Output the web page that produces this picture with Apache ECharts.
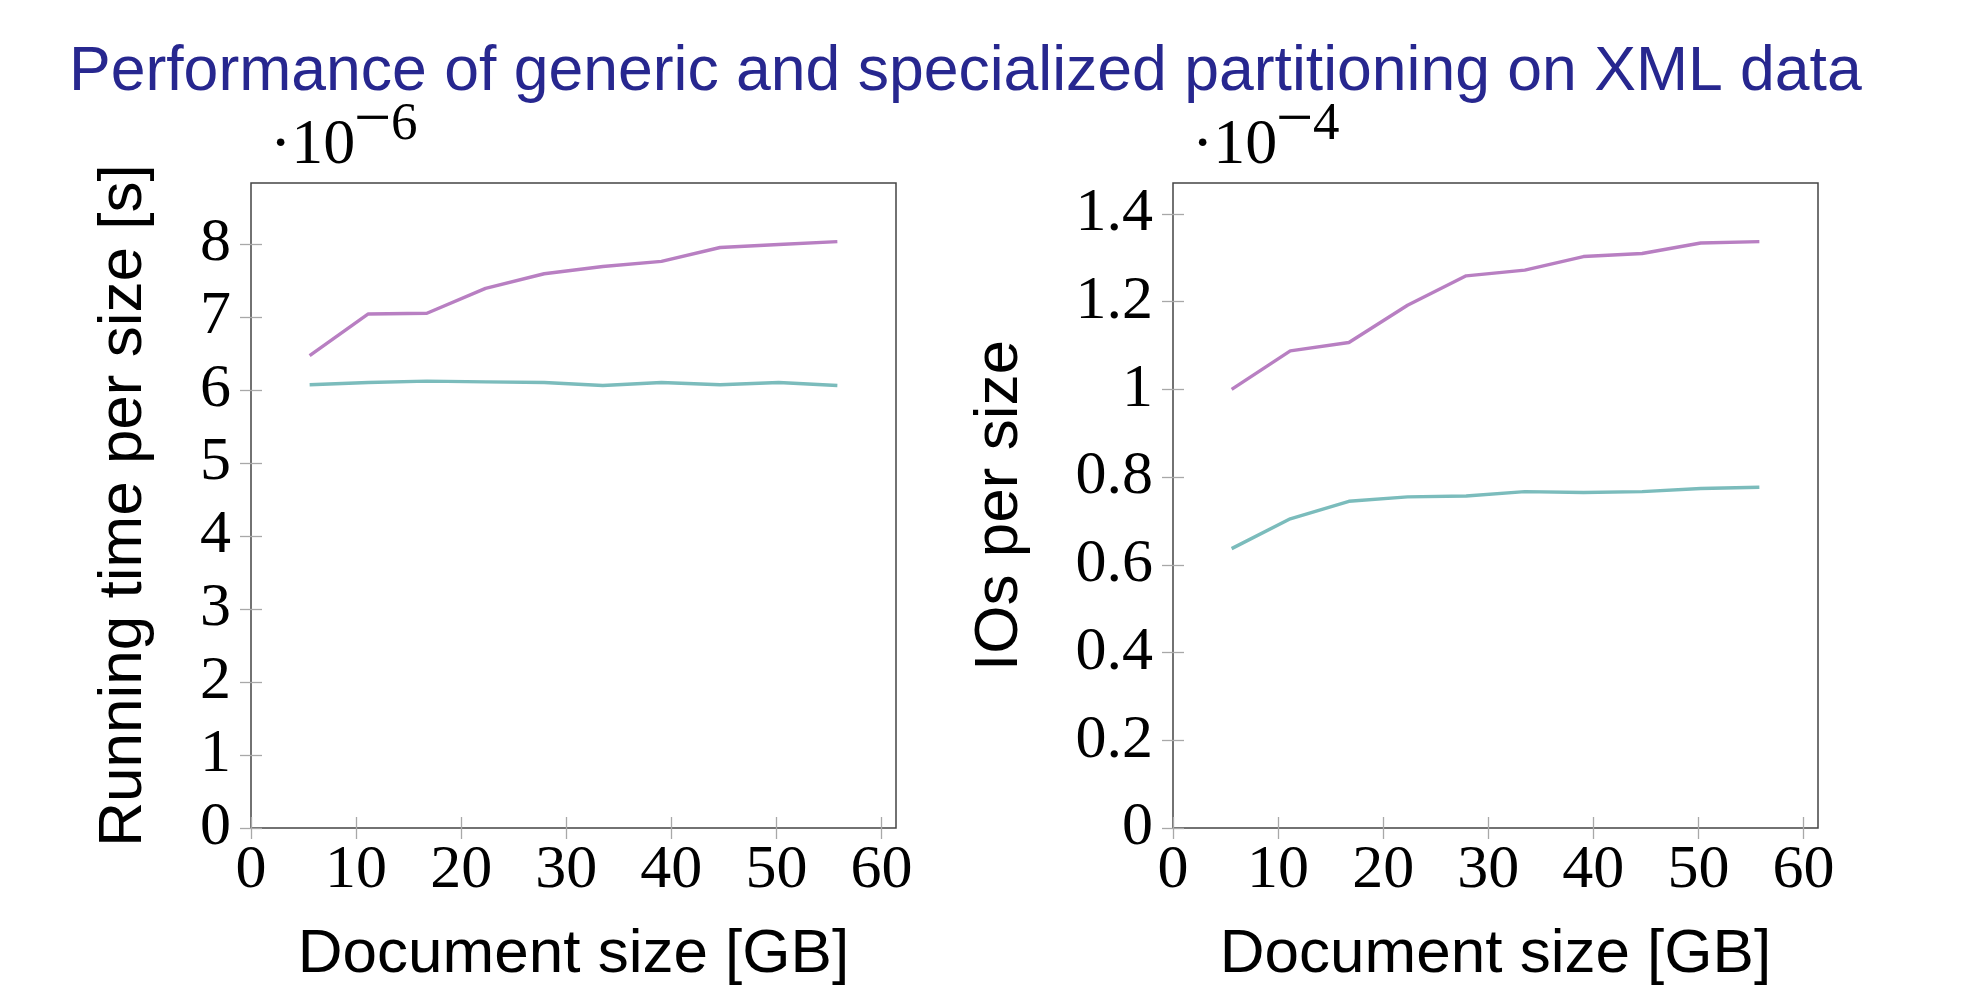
<!DOCTYPE html>
<html>
<head>
<meta charset="utf-8">
<script src="https://cdn.jsdelivr.net/npm/echarts@6/dist/echarts.min.js"></script>
<style>
html,body{margin:0;padding:0;background:#fff;}
#chart{width:1978px;height:992px;}
</style>
</head>
<body>
<div id="chart"></div>
<script>
// Document size [GB]
const docSizes = [5.58, 11.16, 16.74, 22.32, 27.9, 33.48, 39.06, 44.64, 50.22, 55.8];
// Running time per size [s] (×10^-6)
const timeGeneric = [6.47, 7.04, 7.05, 7.39, 7.59, 7.69, 7.76, 7.95, 7.99, 8.03];
const timeSpecialized = [6.07, 6.10, 6.12, 6.11, 6.10, 6.06, 6.10, 6.07, 6.10, 6.06];
// IOs per size (×10^-4)
const ioGeneric = [1.000, 1.088, 1.107, 1.192, 1.259, 1.272, 1.303, 1.310, 1.334, 1.337];
const ioSpecialized = [0.637, 0.705, 0.745, 0.755, 0.757, 0.767, 0.765, 0.767, 0.774, 0.777];
// tick values
const xTicks = [0, 10, 20, 30, 40, 50, 60];
const timeTicks = [0, 1, 2, 3, 4, 5, 6, 7, 8];
const ioTicks = [0, 0.2, 0.4, 0.6, 0.8, 1.0, 1.2, 1.4];

const titleText = 'Performance of generic and specialized partitioning on XML data';
const timeName = 'Running time per size [s]';
const ioName = 'IOs per size';
const xName = 'Document size [GB]';
const timeExp = '6', ioExp = '4';

const X_MAX = 61.38, TIME_MAX = 8.833, IO_MAX = 1.4707;
const purple = '#b87fc2', teal = '#7bbcbc';
const serif = 'Liberation Serif', sans = 'Liberation Sans';
const LABEL_SIZE = 62, NAME_SIZE = 62;

const pair = (arr) => docSizes.map((x, i) => [x, arr[i]]);
const fmtNum = (v) => String(Math.round(v * 10) / 10);
const tickStyle = {color: '#a8a8a8', width: 1.3};

function mainX(gridIndex) {
  return {
    type: 'value', gridIndex, position: 'bottom', min: 0, max: X_MAX,
    name: xName, nameLocation: 'middle', nameGap: 96,
    nameTextStyle: {fontFamily: sans, fontSize: NAME_SIZE, color: '#000'},
    axisLine: {show: false}, splitLine: {show: false},
    axisTick: {show: true, inside: true, length: 11, customValues: xTicks, lineStyle: tickStyle},
    axisLabel: {show: true, customValues: xTicks, margin: 12, fontFamily: serif, fontSize: LABEL_SIZE, color: '#000', formatter: fmtNum}
  };
}
function mirrorX(gridIndex) {
  return {
    type: 'value', gridIndex, position: 'top', min: 0, max: X_MAX,
    axisLine: {show: false}, splitLine: {show: false}, axisLabel: {show: false},
    axisTick: {show: true, inside: true, length: 11, customValues: xTicks, lineStyle: tickStyle}
  };
}
function mainY(gridIndex, max, ticks, name, gap) {
  return {
    type: 'value', gridIndex, position: 'left', min: 0, max: max,
    name: name, nameLocation: 'middle', nameGap: gap,
    nameTextStyle: {fontFamily: sans, fontSize: NAME_SIZE, color: '#000'},
    axisLine: {show: false}, splitLine: {show: false},
    axisTick: {show: true, inside: true, length: 11, customValues: ticks, lineStyle: tickStyle},
    axisLabel: {show: true, customValues: ticks, margin: 20, fontFamily: serif, fontSize: LABEL_SIZE, color: '#000', formatter: fmtNum}
  };
}
function mirrorY(gridIndex, max, ticks) {
  return {
    type: 'value', gridIndex, position: 'right', min: 0, max: max,
    axisLine: {show: false}, splitLine: {show: false}, axisLabel: {show: false},
    axisTick: {show: true, inside: true, length: 11, customValues: ticks, lineStyle: tickStyle}
  };
}
function line(name, data, color, xi, yi) {
  return {
    type: 'line', name, data, xAxisIndex: xi, yAxisIndex: yi,
    showSymbol: false, symbol: 'none', animation: false,
    lineStyle: {color, width: 3.4}, itemStyle: {color}
  };
}
function exponent(x0, exp) {
  return [
    {type: 'text', x: x0, y: 146, style: {text: '·10', font: '64px "Liberation Serif"', fill: '#000', verticalAlign: 'middle', align: 'left'}},
    {type: 'text', x: x0 + 84, y: 122, style: {text: '−', font: '66px "Liberation Serif"', fill: '#000', verticalAlign: 'middle', align: 'left'}},
    {type: 'text', x: x0 + 121, y: 125, style: {text: exp, font: '53px "Liberation Serif"', fill: '#000', verticalAlign: 'middle', align: 'left'}}
  ];
}

const chart = echarts.init(document.getElementById('chart'), null, {renderer: 'canvas'});
chart.setOption({
  animation: false,
  backgroundColor: '#fff',
  title: {
    text: titleText, left: 64, top: 36,
    textStyle: {fontFamily: sans, fontSize: 62.5, fontWeight: 'normal', color: '#27278f'}
  },
  grid: [
    {left: 251, top: 183, width: 645, height: 645, show: true, borderColor: '#444', borderWidth: 1.5},
    {left: 1173, top: 183, width: 645, height: 645, show: true, borderColor: '#444', borderWidth: 1.5}
  ],
  xAxis: [mainX(0), mirrorX(0), mainX(1), mirrorX(1)],
  yAxis: [
    mainY(0, TIME_MAX, timeTicks, timeName, 96),
    mirrorY(0, TIME_MAX, timeTicks),
    mainY(1, IO_MAX, ioTicks, ioName, 142),
    mirrorY(1, IO_MAX, ioTicks)
  ],
  graphic: exponent(270, timeExp).concat(exponent(1192, ioExp)),
  series: [
    line('generic', pair(timeGeneric), purple, 0, 0),
    line('specialized', pair(timeSpecialized), teal, 0, 0),
    line('generic', pair(ioGeneric), purple, 2, 2),
    line('specialized', pair(ioSpecialized), teal, 2, 2)
  ]
});
</script>
</body>
</html>
